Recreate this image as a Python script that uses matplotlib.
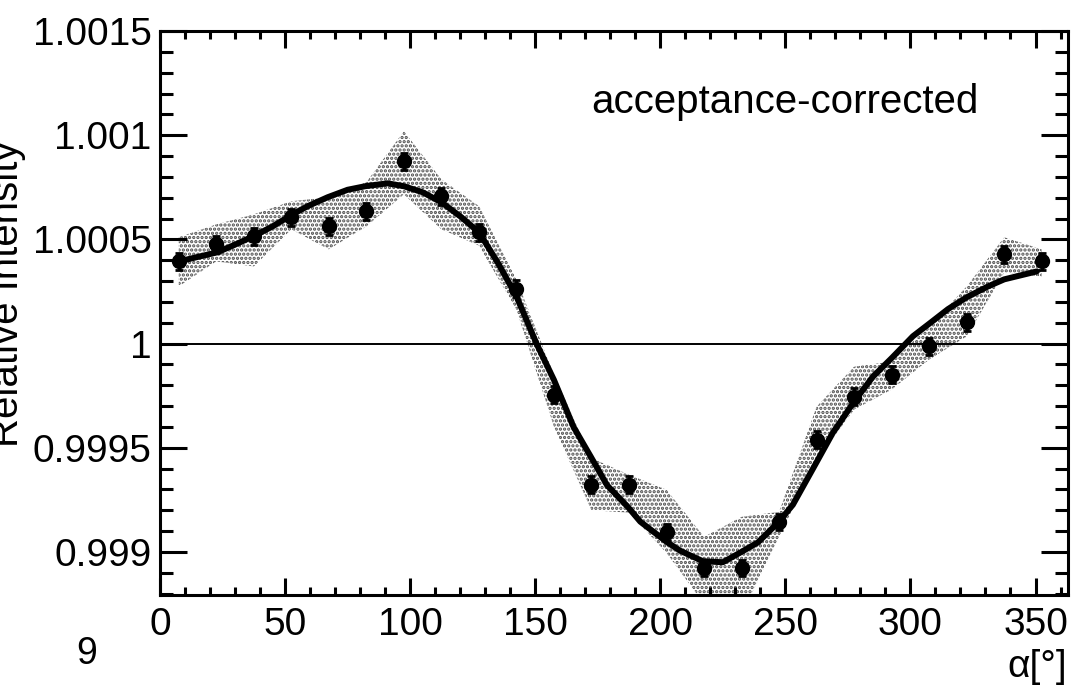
import matplotlib
matplotlib.use("Agg")
import matplotlib.pyplot as plt
from matplotlib.ticker import MultipleLocator

plt.rcParams['font.family'] = ['Liberation Sans', 'DejaVu Sans']
plt.rcParams['hatch.linewidth'] = 1.6

# angle bins (deg) and measured relative intensity
alpha = [7.5, 22.5, 37.5, 52.5, 67.5, 82.5, 97.5, 112.5, 127.5, 142.5, 157.5, 172.5,
         187.5, 202.5, 217.5, 232.5, 247.5, 262.5, 277.5, 292.5, 307.5, 322.5, 337.5, 352.5]
intensity = [1.000394, 1.000476, 1.000514, 1.000606, 1.000562, 1.000635, 1.000875, 1.000707,
             1.000534, 1.000264, 0.999755, 0.999322, 0.999322, 0.999096, 0.998923, 0.998923,
             0.999144, 0.999538, 0.999745, 0.999851, 0.999986, 1.000101, 1.000428, 1.000394]
stat_err = [0.00004] * 24

# systematic band (lower / upper edge)
band_lo = [1.000274, 1.000394, 1.000370, 1.000548, 1.000452, 1.000562, 1.000716, 1.000548,
           1.000470, 1.000163, 0.999600, 0.999200, 0.999188, 0.998995, 0.998750, 0.998700,
           0.999072, 0.999442, 0.999683, 0.999779, 0.999923, 1.000034, 1.000341, 1.000322]
band_hi = [1.000510, 1.000572, 1.000620, 1.000683, 1.000702, 1.000774, 1.001019, 1.000788,
           1.000660, 1.000308, 0.999850, 0.999450, 0.999370, 0.999298, 0.999072, 0.999168,
           0.999192, 0.999697, 0.999889, 0.999913, 1.000082, 1.000274, 1.000510, 1.000452]

# fit curve
fit_alpha = [7.5, 23, 31, 38, 45, 53, 59, 67, 75, 82, 91, 97.5, 105, 112.5, 120, 127.5,
             135, 142.5, 150.7, 157.5, 165.3, 172.2, 178.7, 187, 192, 202.5, 208, 217,
             225, 232.5, 239, 247, 253, 262, 269, 277.5, 285, 292.5, 301, 307.5, 315,
             322.5, 331, 337.5, 350.5]
fit_val = [1.000394, 1.000438, 1.000480, 1.000519, 1.000562, 1.000620, 1.000659, 1.000702,
           1.000738, 1.000755, 1.000769, 1.000755, 1.000726, 1.000678, 1.000611, 1.000534,
           1.000389, 1.000226, 0.999995, 0.999825, 0.999600, 0.999457, 0.999320, 0.999216,
           0.999145, 0.999048, 0.999005, 0.998955, 0.998950, 0.999000, 0.999045, 0.999139,
           0.999226, 0.999420, 0.999572, 0.999721, 0.999841, 0.999930, 1.000035, 1.000095,
           1.000165, 1.000222, 1.000274, 1.000308, 1.000346]

yticks = [0.999, 0.9995, 1.0, 1.0005, 1.001, 1.0015]
ytick_labels = ['0.999', '0.9995', '1', '1.0005', '1.001', '1.0015']

fig = plt.figure(figsize=(10.81, 6.94), dpi=100)
ax = fig.add_axes([0.148, 0.1427, 0.84, 0.8126])

# systematic band, stippled
ax.fill_between(alpha, band_lo, band_hi, facecolor='none', edgecolor='0.3',
                hatch='....', linewidth=0, zorder=1)

ax.axhline(1.0, color='black', linewidth=1.4, zorder=2)

ax.plot(fit_alpha, fit_val, color='black', linewidth=4.3, solid_joinstyle='round',
        solid_capstyle='round', zorder=3)

ax.errorbar(alpha, intensity, yerr=stat_err, fmt='o', color='black', markersize=10,
            elinewidth=2, capsize=3, capthick=2, zorder=4)

ax.set_xlim(0, 363)
ax.set_ylim(0.998793, 1.0015)

ax.xaxis.set_major_locator(MultipleLocator(50))
ax.xaxis.set_minor_locator(MultipleLocator(10))
ax.set_yticks(yticks)
ax.set_yticklabels(ytick_labels)
ax.yaxis.set_minor_locator(MultipleLocator(0.0001))

ax.tick_params(which='both', direction='in', top=True, right=True, width=2.2,
               labelsize=28, colors='black')
ax.tick_params(axis='y', which='major', length=19.5, pad=6)
ax.tick_params(axis='y', which='minor', length=9.5)
ax.tick_params(axis='x', which='major', length=12.5, pad=9)
ax.tick_params(axis='x', which='minor', length=6)

for s in ax.spines.values():
    s.set_linewidth(2.2)

ax.text(250, 1.00116, 'acceptance-corrected', fontsize=29, ha='center', va='center')

fig.text(18 / 1081, 1 - 294 / 694, 'Relative Intensity', fontsize=29, rotation=90,
         rotation_mode='anchor', ha='center', va='baseline')
fig.text(1067 / 1081, 1 - 667 / 694, 'α[°]', fontsize=28, ha='right', va='center')
fig.text(87 / 1081, 1 - 654 / 694, '9', fontsize=27, ha='center', va='center')

fig.savefig('out.png', dpi=100)
